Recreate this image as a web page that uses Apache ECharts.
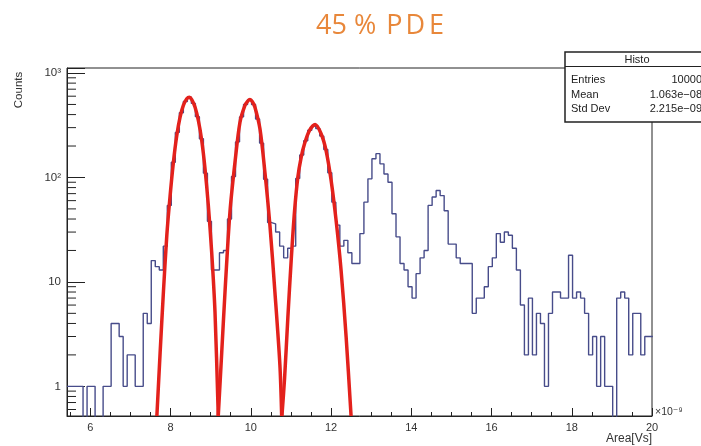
<!DOCTYPE html>
<html>
<head>
<meta charset="utf-8">
<title>45 % PDE</title>
<script src="https://cdn.jsdelivr.net/npm/echarts@6/dist/echarts.min.js"></script>
<style>
  html, body { margin: 0; padding: 0; background: #fff; }
  #chart { width: 701px; height: 446px; }
</style>
</head>
<body>
<div id="chart"></div>
<script>
// histogram: first bin edge, bin width and counts (x in units of 1e-9 Vs)
const binStart = 5.42;
const binWidth = 0.1;
const counts = [
  1, 1, 1, 1, 0, 1, 1, 0, 0, 1,
  1, 4, 4, 3, 1, 2, 2, 1, 1, 5,
  4, 16, 14, 13, 22, 54, 140, 270, 417, 533,
  587, 512, 382, 235, 110, 38, 13, 13, 19, 20,
  40, 102, 219, 380, 500, 556, 500, 363, 213, 96,
  37, 36, 30, 22, 17, 21, 22, 98, 164, 225,
  283, 311, 294, 249, 185, 111, 58, 35, 22, 25,
  19, 15, 15, 29, 58, 97, 151, 169, 135, 108,
  90, 45, 27, 15, 13, 9, 7, 12, 17, 20,
  54, 65, 75, 67, 48, 23, 23, 17, 15, 15,
  15, 5, 7, 7, 9, 14, 17, 29, 24, 30,
  28, 21, 13, 6, 2, 7, 2, 5, 4, 1,
  5, 8, 8, 7, 7, 18, 7, 8, 7, 5,
  2, 3, 1, 3, 1, 1, 0, 7, 8, 7,
  2, 5, 5, 2, 3, 3
];

// gaussian fits, [x, counts]
const fit1 = [
  [7.66, 0.52], [7.741, 2.1], [7.823, 8], [7.908, 28], [7.99, 67],
  [8.072, 140], [8.156, 252], [8.238, 378], [8.32, 489], [8.405, 566],
  [8.47, 587], [8.529, 557], [8.612, 471], [8.694, 351], [8.778, 226],
  [8.86, 121], [8.942, 54], [9.027, 19], [9.109, 5.1], [9.19, 0.52]
];
const fit2 = [
  [9.19, 0.52], [9.276, 2.1], [9.358, 8], [9.482, 47], [9.607, 140],
  [9.731, 338], [9.855, 489], [9.92, 535], [9.98, 557], [10.04, 530],
  [10.104, 471], [10.229, 292], [10.353, 112], [10.477, 35], [10.602, 8],
  [10.726, 1.6], [10.77, 0.52]
];
const fit3 = [
  [10.776, 0.52], [10.843, 1.2], [10.925, 4.6], [11.007, 16], [11.092, 48],
  [11.174, 101], [11.256, 156], [11.34, 210], [11.465, 282], [11.604, 321],
  [11.753, 262], [11.877, 181], [12.002, 94], [12.126, 39], [12.251, 12.9],
  [12.376, 3.0], [12.5, 0.52]
];

// axis ranges and the log minor ticks
const xMin = 5.42;
const xMax = 20;
const yMin = 0.52;
const yMax = 1117;
const yMinorTicks = [
  0.6, 0.7, 0.8, 0.9,
  2, 3, 4, 5, 6, 7, 8, 9,
  20, 30, 40, 50, 60, 70, 80, 90,
  200, 300, 400, 500, 600, 700, 800, 900
];
const yLabels = { 0: '1', 1: '10', 2: '10²', 3: '10³' };

const statRows = [
  ['Entries', '10000'],
  ['Mean', '1.063e\u221208'],
  ['Std Dev', '2.215e\u221209']
];

// step points, empty bins pushed below the frame so the line drops to the bottom
const histPoints = counts.map((c, i) => [binStart + i * binWidth, c > 0 ? c : 0.1]);
histPoints.push([binStart + counts.length * binWidth, counts[counts.length - 1]]);

const font = '"Liberation Sans", "DejaVu Sans", sans-serif';
const titleFont = '"Open Sans", sans-serif';
const ink = '#222';
const orange = '#e8873a';

const chart = echarts.init(document.getElementById('chart'), null, { renderer: 'canvas' });

const option = {
  animation: false,
  backgroundColor: '#fff',
  grid: {
    left: 67, top: 68, right: 49, bottom: 30,
    show: true, borderColor: ink, borderWidth: 1, backgroundColor: 'transparent'
  },
  xAxis: {
    type: 'value',
    min: xMin,
    max: xMax,
    splitNumber: 7,
    splitLine: { show: false },
    axisLine: { lineStyle: { color: ink, width: 1 } },
    axisTick: { inside: true, length: 8, lineStyle: { color: ink } },
    minorTick: { show: true, splitNumber: 4, length: 4, lineStyle: { color: ink } },
    axisLabel: {
      color: '#333', fontSize: 11, fontFamily: font, margin: 6,
      showMinLabel: false,
      formatter: v => (Math.abs(v - Math.round(v)) < 1e-6 ? String(Math.round(v)) : '')
    }
  },
  yAxis: {
    type: 'log',
    logBase: 10,
    min: yMin,
    max: yMax,
    splitLine: { show: false },
    axisLine: { lineStyle: { color: ink, width: 1 } },
    axisTick: { inside: true, length: 18, lineStyle: { color: ink } },
    axisLabel: {
      color: '#333', fontSize: 11.5, fontFamily: font, margin: 6,
      formatter: v => {
        const e = Math.log10(v);
        return Math.abs(e - Math.round(e)) < 1e-6 ? (yLabels[Math.round(e)] || '') : '';
      }
    }
  },
  series: [
    {
      type: 'custom',
      silent: true,
      z: 1,
      data: yMinorTicks.map(v => [xMin, v]),
      renderItem: (params, api) => {
        const p = api.coord([api.value(0), api.value(1)]);
        return {
          type: 'line',
          shape: { x1: p[0], y1: p[1], x2: p[0] + 9, y2: p[1] },
          style: { stroke: ink, lineWidth: 1 }
        };
      }
    },
    {
      type: 'line',
      step: 'end',
      data: histPoints,
      symbol: 'none',
      clip: true,
      z: 2,
      lineStyle: { color: '#474c8a', width: 1.4 }
    },
    ...[fit1, fit2, fit3].map(f => ({
      type: 'line',
      data: f,
      smooth: 0.3,
      symbol: 'none',
      clip: true,
      z: 3,
      lineStyle: { color: '#e3211c', width: 3.5 }
    }))
  ],
  graphic: [
    {
      type: 'text', x: 316, y: 26.6, z: 10,
      style: {
        text: '{t|45 %}{p|P}{q|D}{t|E}',
        verticalAlign: 'middle',
        rich: {
          t: { fill: orange, fontSize: 27, fontFamily: titleFont },
          p: { fill: orange, fontSize: 27, fontFamily: titleFont, padding: [0, 3, 0, 10] },
          q: { fill: orange, fontSize: 27, fontFamily: titleFont, padding: [0, 4, 0, 0] }
        }
      }
    },
    {
      type: 'text', x: 19, y: 90, rotation: Math.PI / 2, z: 10,
      style: { text: 'Counts', fill: '#333', font: '11.5px ' + font, align: 'center', verticalAlign: 'middle' }
    },
    {
      type: 'text', x: 652, y: 439, z: 10,
      style: { text: 'Area[Vs]', fill: '#333', font: '12px ' + font, align: 'right', verticalAlign: 'middle' }
    },
    {
      type: 'text', x: 655, y: 412, z: 10,
      style: { text: '\u00d710\u207b\u2079', fill: '#333', font: '10.5px ' + font, align: 'left', verticalAlign: 'middle' }
    },
    {
      type: 'group', z: 20,
      children: [
        {
          type: 'rect', shape: { x: 565, y: 52, width: 140, height: 70 },
          style: { fill: '#fff', stroke: ink, lineWidth: 1.5 }
        },
        {
          type: 'line', shape: { x1: 565, y1: 66.5, x2: 705, y2: 66.5 },
          style: { stroke: ink, lineWidth: 1 }
        },
        {
          type: 'text', x: 637, y: 60,
          style: { text: 'Histo', fill: ink, font: '11px ' + font, align: 'center', verticalAlign: 'middle' }
        },
        ...statRows.flatMap((r, i) => [
          {
            type: 'text', x: 571, y: 80 + i * 14.5,
            style: { text: r[0], fill: ink, font: '11px ' + font, align: 'left', verticalAlign: 'middle' }
          },
          {
            type: 'text', x: 702, y: 80 + i * 14.5,
            style: { text: r[1], fill: ink, font: '11px ' + font, align: 'right', verticalAlign: 'middle' }
          }
        ])
      ]
    }
  ]
};

chart.setOption(option);
</script>
</body>
</html>
